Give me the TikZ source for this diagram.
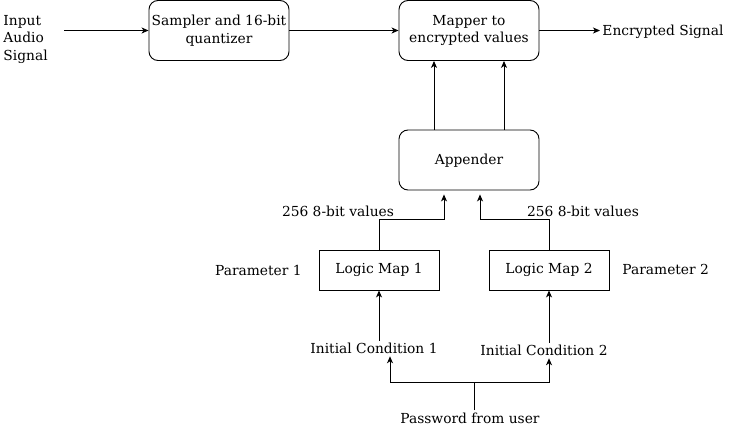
\documentclass[tikz,border=0pt]{standalone}
\usepackage{fontspec}
\setmainfont{DejaVu Serif}
\usetikzlibrary{arrows.meta}

\begin{document}
\begin{tikzpicture}[
                x = 1pt, y = -1pt,
                line width = 0.9pt,
                font = \fontsize{13.8}{17.5}\selectfont,
                block/.style = {draw, rounded corners = 9pt, align = center, inner sep = 0pt, minimum width = 140pt, minimum height = 60pt},
                map/.style = {draw, inner sep = 0pt, minimum width = 120pt, minimum height = 40pt},
                txt/.style = {align = center, inner sep = 2pt},
                arr/.style = {draw, -{Stealth[length = 7pt, width = 6pt, inset = 2pt]}},
            ]
            \useasboundingbox (0,0) rectangle (741,428);

            \node (IN) [txt, align = left, anchor = west] at (1,39.5) {Input\\Audio\\Signal};
            \node (SAMP) [block] at (219,30.5) {Sampler and 16-bit\\quantizer};
            \node (MAP) [block] at (469,30.5) {Mapper to\\encrypted values};
            \node (OUT) [txt, anchor = west] at (600,31.5) {Encrypted Signal};
            \node (APP) [block, text depth = 1pt] at (469,160) {Appender};

            \node (LM1) [map] at (379,270) {Logic Map 1};
            \node (LM2) [map] at (549,270) {Logic Map 2};
            \node (P1) [txt, anchor = east] at (304,270.5) {Parameter 1};
            \node (P2) [txt, anchor = west] at (620,269.5) {Parameter 2};
            \node (V1) [txt] at (338,211.5) {256 8-bit values};
            \node (V2) [txt] at (583,211.5) {256 8-bit values};

            \node (IC1) [txt] at (374,348.5) {Initial Condition 1};
            \node (IC2) [txt] at (544,350.5) {Initial Condition 2};
            \node (PW) [txt] at (470,418) {Password from user};

            \coordinate (J) at (474,382);
            \coordinate (JL) at (390,382);
            \coordinate (JR) at (549,382);

            \path[arr] ([xshift = 14pt]IN.east |- SAMP.west) -- (SAMP.west);
            \path[arr] (SAMP) -- (MAP);
            \path[arr] (MAP.east) -- (MAP.east -| OUT.west);

            \path[arr] ([xshift = -35pt]APP.north) -- ([xshift = -35pt]MAP.south);
            \path[arr] ([xshift = 35pt]APP.north) -- ([xshift = 35pt]MAP.south);

            \path[arr] (LM1.north) -- ++(0,-30) -| ([shift = {(-25,4)}]APP.south);
            \path[arr] (LM2.north) -- ++(0,-30) -| ([shift = {(11,4)}]APP.south);

            \path[arr] (IC1.north -| LM1) -- (LM1.south);
            \path[arr] (IC2.north -| LM2) -- (LM2.south);

            \path[draw] (PW.north -| J) -- (J);
            \path[arr] (J) -- (JL) -- (IC1.south -| JL);
            \path[arr] (J) -- (JR) -- (IC2.south -| JR);
        \end{tikzpicture}
\end{document}
